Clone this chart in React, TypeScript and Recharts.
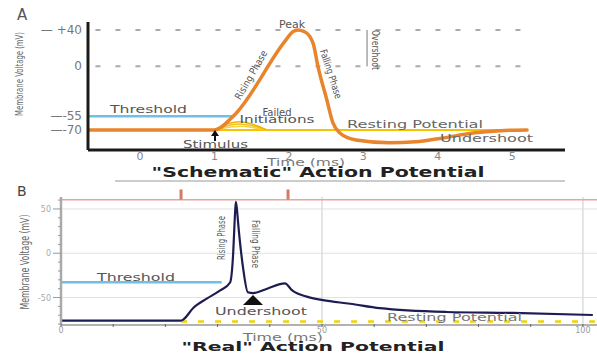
import { ComposedChart, Line, XAxis, YAxis, ReferenceLine } from 'recharts';

// ---- Panel A: "schematic" action potential (time in ms, voltage in mV) ----
const schematicTime = [-0.7, 1.0, 1.25, 1.95, 2.05, 2.12, 2.2, 2.28, 2.33, 2.39, 2.51, 2.59, 2.68, 2.9, 3.35, 3.7, 4.05, 4.5, 4.9, 5.2];
const schematicVoltage = [-70, -70, -55, 28, 38, 40, 38.5, 33, 24, 0, -37, -62, -73, -81, -84, -83, -79, -73, -70.5, -70];

const failedTime = [1.0, 1.12, 1.34, 1.56, 1.7];
const failedHigh = [-70, -65, -61, -65, -70];
const failedMid = [-70, -66.5, -63.5, -66.5, -70];
const failedLow = [-70, -68, -66, -68, -70];

const restingTimeA = [1.0, 5.2];
const restingVoltageA = [-70, -70];

const thresholdA = -55;
const thresholdEndA = 1.25;
const schematicYTicks = [40, 0, -55, -70];
const schematicXTicks = [0, 1, 2, 3, 4, 5];

// ---- Panel B: "real" recorded action potential ----
const realTime = [0, 23, 23.4, 25.3, 28, 30.5, 32.4, 33, 33.3, 33.5, 33.7, 34, 34.9, 35.8, 36.8, 39.5, 42.9, 44.3, 47.1, 50.2, 55.4, 61.1, 73.9, 86.6, 101.9];
const realVoltage = [-76, -76, -75, -62, -51, -42, -33, 1, 40, 58, 50, 30, -17, -44, -45, -40, -34, -42, -49, -53, -57, -62, -66.3, -67.4, -69.7];

const restingTimeB = [23, 102.7];
const restingVoltageB = [-77, -77];

const thresholdB = -32.6;
const thresholdEndB = 30.8;
const stimulusLevel = 60.5;
const stimulusTop = 72;
const stimulusMarks = [23, 43.5];

const realXTicks = [0, 10, 20, 30, 40, 50, 60, 70, 80, 90, 100];
const realYTicks = [-80, -70, -60, -50, -40, -30, -20, -10, 0, 10, 20, 30, 40, 50, 60];
const realGridY = [50, 0, -50];
const realGridX = [50, 100];

const zip = (t: number[], v: number[]) => t.map((x, i) => ({ t: x, v: v[i] }));

const FONT = '"DejaVu Sans", Verdana, sans-serif';
const ORANGE = '#e8842c';
const YELLOW = '#f5c400';
const BLUE = '#6cc0ea';
const NAVY = '#1d1d52';

const tickSchematicX = ({ x, y, payload }: any) => (
  <text x={x} y={y + 10} textAnchor="middle" fontSize={11} fill="#888" fontFamily={FONT}>
    {payload.value}
  </text>
);

const tickSchematicY = ({ x, y, payload }: any) => {
  const v = payload.value as number;
  const label = v === 0 ? '0' : v > 0 ? `— +${v}` : `—${v}`;
  return (
    <text x={x - 6} y={y + 4} textAnchor="end" fontSize={12} fill="#777" fontFamily={FONT}>
      {label}
    </text>
  );
};

const tickRealX = ({ x, y, payload }: any) => {
  const major = payload.value % 50 === 0;
  return (
    <g>
      <line x1={x} x2={x} y1={y - 1} y2={y + 2} stroke="#666" strokeWidth={1} />
      {major && (
        <text x={x} y={y + 8} textAnchor="middle" fontSize={8} fill="#999" fontFamily={FONT}>
          {payload.value}
        </text>
      )}
    </g>
  );
};

const tickRealY = ({ x, y, payload }: any) => {
  const major = payload.value % 50 === 0;
  return (
    <g>
      <line x1={x - (major ? 8 : 3)} x2={x} y1={y} y2={y} stroke="#999" strokeWidth={1} />
      {major && (
        <text x={x - 10} y={y + 3} textAnchor="end" fontSize={8} fill="#aaa" fontFamily={FONT}>
          {payload.value}
        </text>
      )}
    </g>
  );
};

function Txt({ x, y, children, size = 11, len, rot = 0, anchor = 'start', fill = '#666', weight = 400 }: any) {
  return (
    <text
      x={x}
      y={y}
      fontSize={size}
      fontFamily={FONT}
      fontWeight={weight}
      fill={fill}
      textAnchor={anchor}
      dominantBaseline={rot ? 'central' : 'auto'}
      textLength={len}
      lengthAdjust={len ? 'spacingAndGlyphs' : undefined}
      transform={rot ? `rotate(${rot} ${x} ${y})` : undefined}
    >
      {children}
    </text>
  );
}

function SchematicPanel() {
  return (
    <ComposedChart width={597} height={180} margin={{ top: 22, right: 32, bottom: 0, left: 0 }}>
      <XAxis
        type="number"
        dataKey="t"
        domain={[-0.7, 5.71]}
        allowDataOverflow
        ticks={schematicXTicks}
        interval={0}
        height={30}
        axisLine={{ stroke: '#1a1a1a', strokeWidth: 3 }}
        tickLine={false}
        tickSize={0}
        tickMargin={0}
        tick={tickSchematicX}
      />
      <YAxis
        type="number"
        domain={[-92, 48.8]}
        allowDataOverflow
        ticks={schematicYTicks}
        interval={0}
        width={88}
        axisLine={{ stroke: '#1a1a1a', strokeWidth: 3 }}
        tickLine={false}
        tickSize={0}
        tickMargin={0}
        tick={tickSchematicY}
      />
      <ReferenceLine segment={[{ x: -0.6, y: 40 }, { x: 5.2, y: 40 }]} stroke="#aaa" strokeWidth={2} strokeDasharray="5 15" />
      <ReferenceLine segment={[{ x: -0.6, y: 0 }, { x: 5.2, y: 0 }]} stroke="#aaa" strokeWidth={2} strokeDasharray="5 15" />
      <ReferenceLine segment={[{ x: 3.05, y: 0 }, { x: 3.05, y: 40 }]} stroke="#777" strokeWidth={1} />
      <ReferenceLine segment={[{ x: -0.7, y: thresholdA }, { x: thresholdEndA, y: thresholdA }]} stroke={BLUE} strokeWidth={2.5} />
      <Line data={zip(restingTimeA, restingVoltageA)} dataKey="v" type="linear" stroke={YELLOW} strokeWidth={2} dot={false} isAnimationActive={false} />
      <Line data={zip(failedTime, failedLow)} dataKey="v" type="monotone" stroke="#f7d23a" strokeWidth={1.5} dot={false} isAnimationActive={false} />
      <Line data={zip(failedTime, failedMid)} dataKey="v" type="monotone" stroke="#f3c21a" strokeWidth={1.5} dot={false} isAnimationActive={false} />
      <Line data={zip(failedTime, failedHigh)} dataKey="v" type="monotone" stroke="#efb400" strokeWidth={1.5} dot={false} isAnimationActive={false} />
      <Line data={zip(schematicTime, schematicVoltage)} dataKey="v" type="monotone" stroke={ORANGE} strokeWidth={3.5} strokeLinecap="round" dot={false} isAnimationActive={false} />
    </ComposedChart>
  );
}

function RealPanel() {
  return (
    <ComposedChart width={597} height={169} margin={{ top: 12, right: 0, bottom: 0, left: 0 }}>
      <XAxis
        type="number"
        dataKey="t"
        domain={[0, 102.7]}
        allowDataOverflow
        ticks={realXTicks}
        interval={0}
        height={29}
        axisLine={{ stroke: '#999', strokeWidth: 1.5 }}
        tickLine={false}
        tickSize={0}
        tickMargin={0}
        tick={tickRealX}
      />
      <YAxis
        type="number"
        domain={[-81, 63.5]}
        allowDataOverflow
        ticks={realYTicks}
        interval={0}
        width={61}
        axisLine={{ stroke: '#aaa', strokeWidth: 2.5 }}
        tickLine={false}
        tickSize={0}
        tickMargin={0}
        tick={tickRealY}
      />
      {realGridY.map((v) => (
        <ReferenceLine key={`gy${v}`} y={v} stroke="#e2e2e2" strokeWidth={1} />
      ))}
      {realGridX.map((v) => (
        <ReferenceLine key={`gx${v}`} x={v} stroke="#dcdcdc" strokeWidth={1.5} />
      ))}
      <ReferenceLine
        segment={[{ x: 0, y: stimulusLevel }, { x: 102.7, y: stimulusLevel }]}
        ifOverflow="visible"
        stroke="#e9a595"
        strokeWidth={1.5}
      />
      {stimulusMarks.map((t) => (
        <ReferenceLine
          key={`s${t}`}
          segment={[{ x: t, y: stimulusLevel }, { x: t, y: stimulusTop }]}
          ifOverflow="visible"
          stroke="#d47a68"
          strokeWidth={3}
        />
      ))}
      <ReferenceLine segment={[{ x: 0, y: thresholdB }, { x: thresholdEndB, y: thresholdB }]} stroke={BLUE} strokeWidth={2.5} />
      <Line data={zip(restingTimeB, restingVoltageB)} dataKey="v" type="linear" stroke="#f0d400" strokeWidth={2.5} strokeDasharray="6 11" dot={false} isAnimationActive={false} />
      <Line data={zip(realTime, realVoltage)} dataKey="v" type="monotone" stroke={NAVY} strokeWidth={2.2} dot={false} isAnimationActive={false} />
    </ComposedChart>
  );
}

export default function App() {
  return (
    <div style={{ position: 'absolute', left: 0, top: 0, width: 597, height: 354, background: '#fff', overflow: 'hidden' }}>
      <div style={{ position: 'absolute', left: 0, top: 0 }}>
        <SchematicPanel />
      </div>
      <div style={{ position: 'absolute', left: 0, top: 185 }}>
        <RealPanel />
      </div>
      <svg width={597} height={354} style={{ position: 'absolute', left: 0, top: 0, pointerEvents: 'none' }}>
        {/* Panel A annotations */}
        <Txt x={17} y={20} size={15} fill="#555">A</Txt>
        <Txt x={19} y={74} size={11} len={84} rot={-90} anchor="middle">Membrane Voltage (mV)</Txt>
        <Txt x={292} y={28} size={11} anchor="middle" fill="#555">Peak</Txt>
        <Txt x={251} y={75} size={10} len={55} rot={-60} anchor="middle" fill="#555">Rising Phase</Txt>
        <Txt x={331} y={74} size={10} len={51} rot={72} anchor="middle" fill="#555">Falling Phase</Txt>
        <Txt x={375} y={50} size={10} len={40} rot={90} anchor="middle" fill="#555">Overshoot</Txt>
        <Txt x={110} y={113} size={11} len={77} fill="#555">Threshold</Txt>
        <Txt x={277} y={116} size={10} anchor="middle" fill="#555">Failed</Txt>
        <Txt x={277} y={123} size={10} len={75} anchor="middle" fill="#555">Initiations</Txt>
        <Txt x={347} y={128} size={10} len={136} fill="#666">Resting Potential</Txt>
        <Txt x={440} y={142} size={10} len={93} fill="#666">Undershoot</Txt>
        <Txt x={183} y={148} size={10} len={65} fill="#555">Stimulus</Txt>
        <line x1={215} x2={215} y1={141} y2={135} stroke="#111" strokeWidth={2} />
        <polygon points="215,130 211,136 219,136" fill="#111" />
        <Txt x={306} y={166} size={10} len={78} anchor="middle" fill="#777">Time (ms)</Txt>
        <Txt x={318} y={177} size={14} len={333} anchor="middle" fill="#222" weight={700}>"Schematic" Action Potential</Txt>
        <line x1={115} x2={565} y1={181} y2={181} stroke="#bbb" strokeWidth={1.5} />

        {/* Panel B annotations */}
        <Txt x={17} y={196} size={14} fill="#444">B</Txt>
        <Txt x={25} y={262} size={12} len={95} rot={-90} anchor="middle">Membrane Voltage (mV)</Txt>
        <Txt x={221} y={238} size={11} len={44} rot={-90} anchor="middle" fill="#555">Rising Phase</Txt>
        <Txt x={255} y={244} size={11} len={48} rot={90} anchor="middle" fill="#555">Falling Phase</Txt>
        <Txt x={97} y={281} size={11} len={78} fill="#555">Threshold</Txt>
        <polygon points="253,295 243,305 263,305" fill="#111" />
        <Txt x={215} y={315} size={11} len={92} fill="#555">Undershoot</Txt>
        <Txt x={387} y={321} size={10} len={135} fill="#777">Resting Potential</Txt>
        <Txt x={283} y={341} size={10} len={80} anchor="middle" fill="#777">Time (ms)</Txt>
        <Txt x={313} y={351} size={13} len={263} anchor="middle" fill="#222" weight={700}>"Real" Action Potential</Txt>
      </svg>
    </div>
  );
}
